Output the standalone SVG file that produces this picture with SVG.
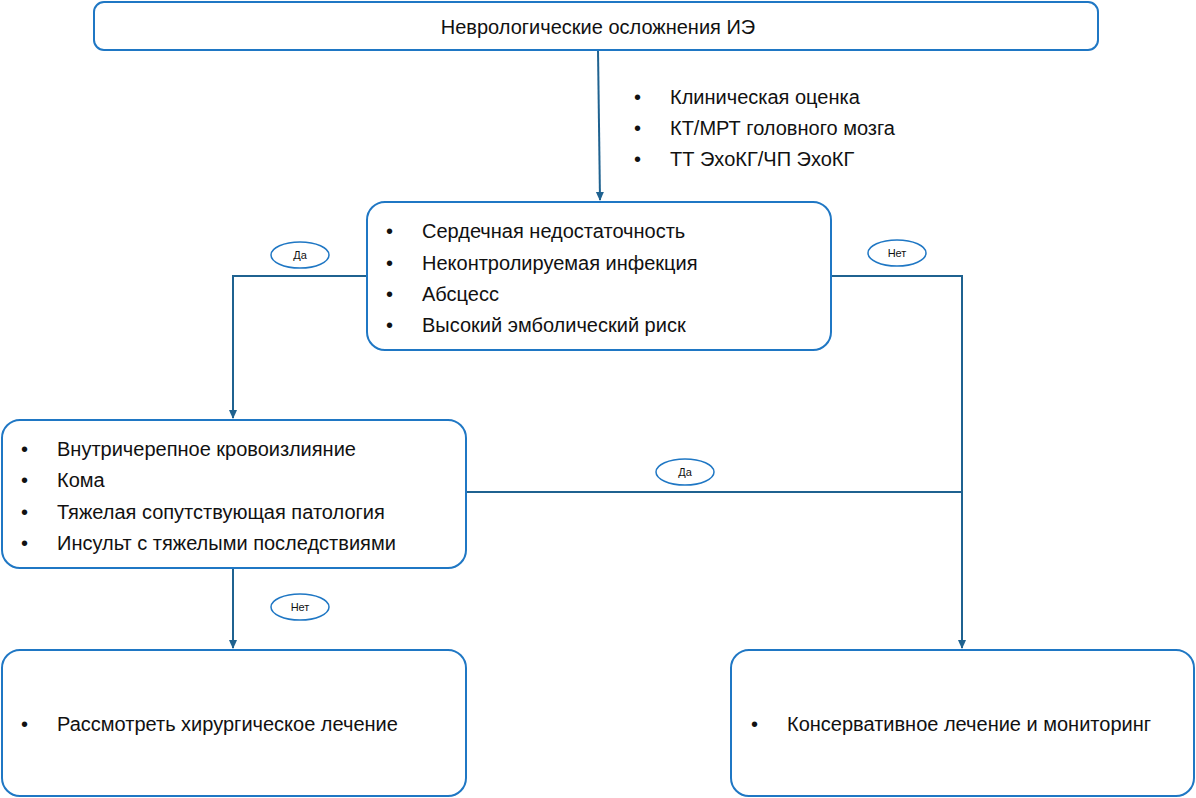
<svg xmlns="http://www.w3.org/2000/svg" width="1196" height="798" viewBox="0 0 1196 798">
<style>
.box{fill:#fff;stroke:#1f77c4;stroke-width:2}
.t{font-family:"Liberation Sans",Arial,sans-serif;font-size:20px;fill:#111}
.lbl{fill:#fff;stroke:#1f77c4;stroke-width:1.5}
.s{font-family:"Liberation Sans",Arial,sans-serif;font-size:11px;fill:#111;text-anchor:middle}
.c{fill:none;stroke:#1f6290;stroke-width:2}
</style>
<defs><marker id="a" markerWidth="10" markerHeight="10" refX="8" refY="5" orient="auto" markerUnits="userSpaceOnUse"><path d="M0,1 L9,5 L0,9 Z" fill="#1f6290"/></marker></defs>
<rect width="1196" height="798" fill="#fff"/>
<g id="connectors">
<path class="c" d="M598,50 L600,200" marker-end="url(#a)"/>
<path class="c" d="M367,276 H233 V418" marker-end="url(#a)"/>
<path class="c" d="M831,276 H962 V648" marker-end="url(#a)"/>
<path class="c" d="M466,492 H962"/>
<path class="c" d="M233,568 V648" marker-end="url(#a)"/>
<g><ellipse class="lbl" cx="300" cy="255" rx="29" ry="13"/><text class="s" x="300" y="259">Да</text></g>
<g><ellipse class="lbl" cx="897" cy="253" rx="29" ry="13"/><text class="s" x="897" y="257">Нет</text></g>
<g><ellipse class="lbl" cx="685" cy="472" rx="29" ry="13"/><text class="s" x="685" y="476">Да</text></g>
<g><ellipse class="lbl" cx="300" cy="607" rx="29" ry="13"/><text class="s" x="300" y="611">Нет</text></g>
</g>
<g id="top"><rect class="box" x="94" y="2" width="1004" height="48" rx="10"/><text class="t" x="598" y="34" text-anchor="middle">Неврологические осложнения ИЭ</text></g>
<g id="notes" class="t"><text x="634" y="104">•</text><text x="670" y="104">Клиническая оценка</text><text x="634" y="135">•</text><text x="670" y="135">КТ/МРТ головного мозга</text><text x="634" y="166">•</text><text x="670" y="166">ТТ ЭхоКГ/ЧП ЭхоКГ</text></g>
<g id="mid"><rect class="box" x="367" y="202" width="464" height="148" rx="18"/><g class="t"><text x="386" y="238">•</text><text x="422" y="238">Сердечная недостаточность</text><text x="386" y="270">•</text><text x="422" y="270">Неконтролируемая инфекция</text><text x="386" y="301">•</text><text x="422" y="301">Абсцесс</text><text x="386" y="332">•</text><text x="422" y="332">Высокий эмболический риск</text></g></g>
<g id="left"><rect class="box" x="2" y="420" width="464" height="148" rx="18"/><g class="t"><text x="21" y="456">•</text><text x="57" y="456">Внутричерепное кровоизлияние</text><text x="21" y="487">•</text><text x="57" y="487">Кома</text><text x="21" y="519">•</text><text x="57" y="519">Тяжелая сопутствующая патология</text><text x="21" y="550">•</text><text x="57" y="550">Инсульт с тяжелыми последствиями</text></g></g>
<g id="surg"><rect class="box" x="2" y="650" width="464" height="146" rx="18"/><g class="t"><text x="21" y="731">•</text><text x="57" y="731">Рассмотреть хирургическое лечение</text></g></g>
<g id="cons"><rect class="box" x="731" y="650" width="463" height="146" rx="18"/><g class="t"><text x="751" y="731">•</text><text x="787" y="731">Консервативное лечение и мониторинг</text></g></g>
</svg>
